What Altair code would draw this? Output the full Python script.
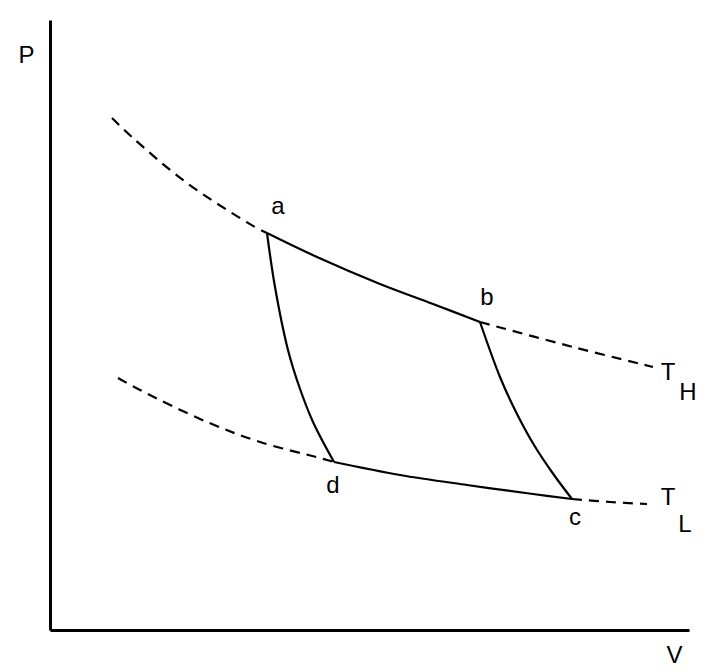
import altair as alt
import pandas as pd

# Cycle segments (V, P)
seg_ab_v = [217, 267, 330, 383, 430]
seg_ab_p = [397, 373, 346, 326, 308]
seg_bc_v = [430, 450, 466, 484, 504, 522]
seg_bc_p = [308, 253, 218, 185, 155, 131]
seg_dc_v = [284, 350, 417, 483, 522]
seg_dc_p = [168, 155, 145, 136, 131]
seg_ad_v = [217, 225, 238, 249, 263, 284]
seg_ad_p = [397, 343, 280, 244, 208, 168]

# Dashed isotherm extensions
th_left_v = [62, 83, 137, 205, 217]
th_left_p = [512, 492, 447, 403, 397]
th_right_v = [430, 523, 603]
th_right_p = [308, 283, 263]
tl_left_v = [68, 90, 157, 210, 270, 284]
tl_left_p = [252, 240, 208, 188, 172, 168]
tl_right_v = [522, 560, 597]
tl_right_p = [131, 128, 126]

# Labels
lab_text = ["a", "b", "c", "d", "T", "H", "T", "L"]
lab_v = [228, 437, 525, 283, 618, 638, 618, 635]
lab_p = [423, 332, 112, 144, 257, 237, 132, 105]


def seg(name, vs, ps):
    return pd.DataFrame({"seg": name, "V": vs, "P": ps, "i": range(len(vs))})


solid = pd.concat([
    seg("ab", seg_ab_v, seg_ab_p),
    seg("bc", seg_bc_v, seg_bc_p),
    seg("dc", seg_dc_v, seg_dc_p),
    seg("ad", seg_ad_v, seg_ad_p),
])
dashed = pd.concat([
    seg("thl", th_left_v, th_left_p),
    seg("thr", th_right_v, th_right_p),
    seg("tll", tl_left_v, tl_left_p),
    seg("tlr", tl_right_v, tl_right_p),
])
labels = pd.DataFrame({"t": lab_text, "V": lab_v, "P": lab_p})

FONT = "Liberation Sans"

xs = alt.Scale(domain=[0, 639], nice=False, zero=False)
ys = alt.Scale(domain=[0, 610], nice=False, zero=False)

x_axis = alt.Axis(title="V", ticks=False, labels=False, grid=False,
                  domainColor="black", domainWidth=3, titleFont=FONT,
                  titleFontSize=24, titleFontWeight="normal", titleColor="black",
                  titleX=624, titleY=25, titleAlign="center", titleBaseline="middle")
y_axis = alt.Axis(title="P", ticks=False, labels=False, grid=False,
                  domainColor="black", domainWidth=3, titleFont=FONT,
                  titleFontSize=24, titleFontWeight="normal", titleColor="black",
                  titleAngle=0, titleX=-24, titleY=35, titleAlign="center",
                  titleBaseline="middle")

solid_layer = alt.Chart(solid).mark_line(
    color="black", strokeWidth=2.2, interpolate="catmull-rom"
).encode(
    x=alt.X("V:Q", scale=xs, axis=x_axis),
    y=alt.Y("P:Q", scale=ys, axis=y_axis),
    detail="seg:N",
    order="i:Q",
)

dashed_layer = alt.Chart(dashed).mark_line(
    color="black", strokeWidth=2.2, strokeDash=[10, 7], interpolate="catmull-rom"
).encode(
    x=alt.X("V:Q", scale=xs),
    y=alt.Y("P:Q", scale=ys),
    detail="seg:N",
    order="i:Q",
)

text_layer = alt.Chart(labels).mark_text(
    font=FONT, fontSize=24, color="black", align="center", baseline="middle"
).encode(
    x=alt.X("V:Q", scale=xs),
    y=alt.Y("P:Q", scale=ys),
    text="t:N",
)

chart = alt.layer(solid_layer, dashed_layer, text_layer).properties(
    width=639, height=610,
    autosize=alt.AutoSizeParams(type="none"),
    padding={"left": 42, "top": 12, "right": 30, "bottom": 42},
    background="white",
).configure_view(stroke=None)

chart.save("out.html", embed_options={"renderer": "svg", "actions": False})
